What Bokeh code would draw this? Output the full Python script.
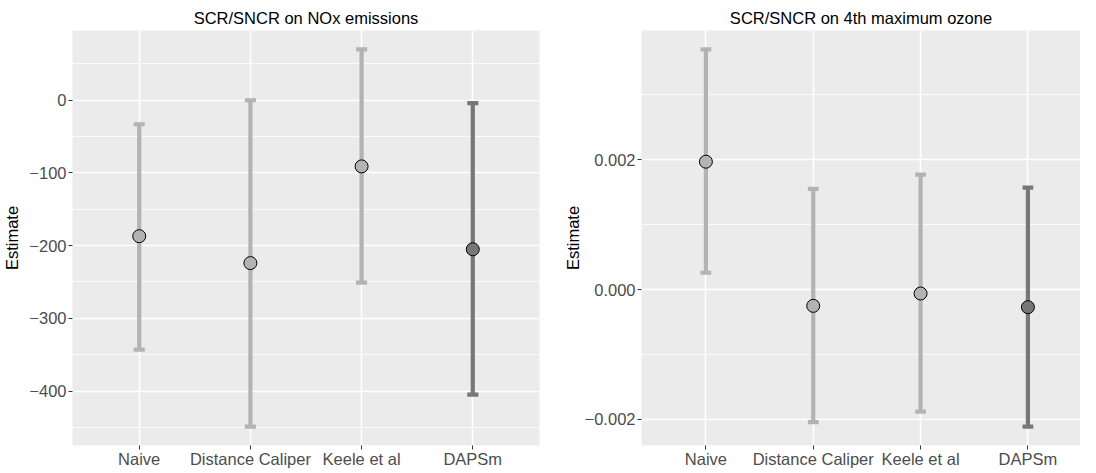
from bokeh.plotting import figure
from bokeh.layouts import row
from bokeh.models import FixedTicker, Range1d
from bokeh.embed import file_html
from bokeh.resources import INLINE

methods = ["Naive", "Distance Caliper", "Keele et al", "DAPSm"]
nox_est = [-187, -224, -91, -205]
nox_lo = [-343, -449, -251, -405]
nox_hi = [-33, 0, 70, -4]
oz_est = [0.00197, -0.00025, -0.00006, -0.00027]
oz_lo = [0.00026, -0.00204, -0.00188, -0.00211]
oz_hi = [0.00370, 0.00155, 0.00177, 0.00157]
bar_colors = ["#b3b3b3", "#b3b3b3", "#b3b3b3", "#777777"]

nox_major = [-400, -300, -200, -100, 0]
nox_minor = [-450, -350, -250, -150, -50, 50]
nox_labels = ["\u2212400", "\u2212300", "\u2212200", "\u2212100", "0"]
oz_major = [-0.002, 0.0, 0.002]
oz_minor = [-0.001, 0.001, 0.003]
oz_labels = ["\u22120.002", "0.000", "0.002"]

FONT = "Liberation Sans"
xs = [i + 1 for i in range(len(methods))]
H = 470


def make_panel(title, est, lo, hi, major, minor, labels, width, bl, br, xend, lab_standoff):
    ymin, ymax = min(lo), max(hi)
    pad = 0.05 * (ymax - ymin)
    p = figure(width=width, height=H, output_backend="svg", toolbar_location=None,
               x_range=Range1d(0.4, xend), y_range=Range1d(ymin - pad, ymax + pad),
               min_border_left=bl, min_border_right=br, min_border_top=30, min_border_bottom=23)
    p.background_fill_color = "#ebebeb"
    p.border_fill_color = "white"
    p.outline_line_color = None

    p.title.text = title
    p.title.align = "center"
    p.title.text_font = FONT
    p.title.text_font_size = "16.5px"
    p.title.text_font_style = "normal"
    p.title.text_color = "black"
    p.title.standoff = 8

    p.xaxis.ticker = FixedTicker(ticks=xs)
    p.xaxis.major_label_overrides = {x: m for x, m in zip(xs, methods)}
    p.yaxis.ticker = FixedTicker(ticks=major, minor_ticks=minor)
    p.yaxis.major_label_overrides = {t: l for t, l in zip(major, labels)}
    p.yaxis.axis_label = "Estimate"
    p.yaxis.axis_label_standoff = lab_standoff
    p.yaxis.axis_label_text_font = FONT
    p.yaxis.axis_label_text_font_size = "16.5px"
    p.yaxis.axis_label_text_font_style = "normal"
    p.yaxis.axis_label_text_color = "black"
    for ax in (p.xaxis, p.yaxis):
        ax.axis_line_color = None
        ax.major_tick_line_color = "#333333"
        ax.major_tick_line_width = 1
        ax.major_tick_out = 4
        ax.major_tick_in = 0
        ax.minor_tick_line_color = None
        ax.major_label_text_font = FONT
        ax.major_label_text_font_size = "16.5px"
        ax.major_label_text_color = "#4d4d4d"
    p.xaxis.major_label_standoff = 0
    p.yaxis.major_label_standoff = 2

    p.xgrid.grid_line_color = "white"
    p.xgrid.grid_line_width = 1.6
    p.ygrid.grid_line_color = "white"
    p.ygrid.grid_line_width = 1.6
    p.ygrid.minor_grid_line_color = "white"
    p.ygrid.minor_grid_line_width = 0.8

    half = 0.05
    p.segment(x0=xs, y0=lo, x1=xs, y1=hi, line_color=bar_colors, line_width=4.2, line_cap="butt")
    p.segment(x0=[x - half for x in xs], y0=hi, x1=[x + half for x in xs], y1=hi,
              line_color=bar_colors, line_width=4.2, line_cap="butt")
    p.segment(x0=[x - half for x in xs], y0=lo, x1=[x + half for x in xs], y1=lo,
              line_color=bar_colors, line_width=4.2, line_cap="butt")
    p.scatter(x=xs, y=est, size=13, fill_color=bar_colors, line_color="black", line_width=1)
    return p


p1 = make_panel("SCR/SNCR on NOx emissions", nox_est, nox_lo, nox_hi,
                nox_major, nox_minor, nox_labels, 560, 69, 21, 4.6, 5)
p2 = make_panel("SCR/SNCR on 4th maximum ozone", oz_est, oz_lo, oz_hi,
                oz_major, oz_minor, oz_labels, 520, 76, 0, 4.49, 0)

p = row(p1, p2)
open("out.html", "w").write(file_html(p, INLINE))
